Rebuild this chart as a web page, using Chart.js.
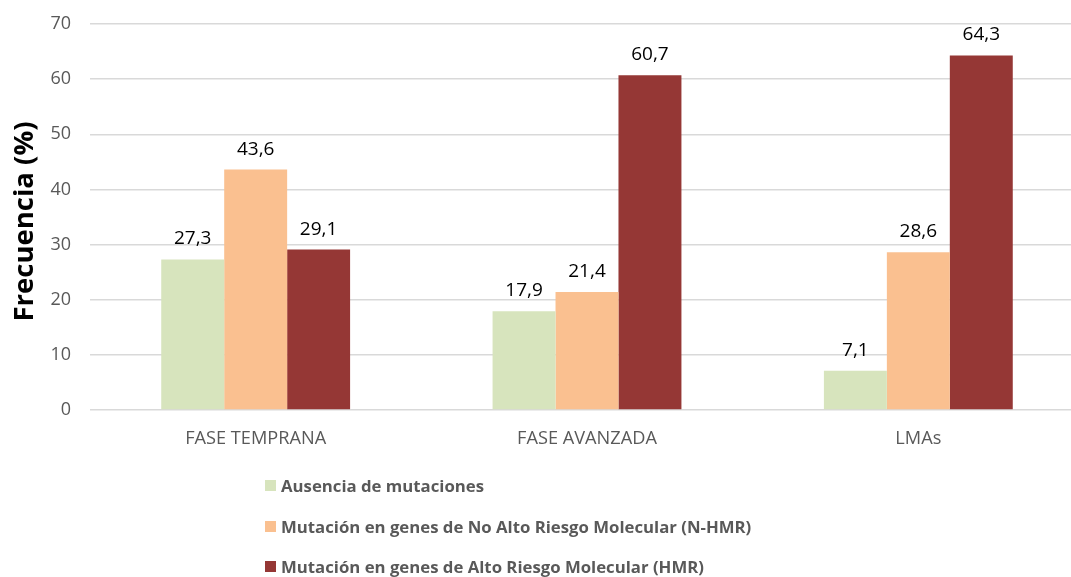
<!DOCTYPE html>
<html>
<head>
<meta charset="utf-8">
<script src="https://cdn.jsdelivr.net/npm/chart.js@4"></script>
<style>
  html, body { margin: 0; padding: 0; background: #fff; overflow: hidden; }
  #wrap { position: relative; width: 1071px; height: 577px; overflow: hidden; }
  #legend {
    position: absolute; left: 265px; top: 474px;
    font-family: "Open Sans", "Liberation Sans", sans-serif; font-weight: bold;
    font-size: 16.75px; color: #595959;
  }
  #legend .item { height: 40.5px; display: flex; align-items: flex-start; white-space: nowrap; }
  #legend .box { width: 11px; height: 11px; margin: 6px 5px 0 0; }
</style>
</head>
<body>
<div id="wrap">
  <canvas id="chart" width="1085" height="577"></canvas>
  <div id="legend"></div>
</div>
<script>
// ===== DATOS =====
const categories = ['FASE TEMPRANA', 'FASE AVANZADA', 'LMAs'];
const seriesNames = [
    'Ausencia de mutaciones',
    'Mutación en genes de No Alto Riesgo Molecular (N-HMR)',
    'Mutación en genes de Alto Riesgo Molecular (HMR)'
];
const ausencia = [27.3, 17.9, 7.1];
const noAltoRiesgo = [43.6, 21.4, 28.6];
const altoRiesgo = [29.1, 60.7, 64.3];
const yTicks = [0, 10, 20, 30, 40, 50, 60, 70];
const seriesColors = ['#D7E4BD', '#FAC090', '#953735'];

const fontFamily = '"Open Sans", "Liberation Sans", sans-serif';
const yTitle = 'Frecuencia (%)';

// Etiquetas de valor encima de cada barra (coma decimal)
const valueLabels = {
    id: 'valueLabels',
    afterDatasetsDraw(chart) {
        const ctx = chart.ctx;
        ctx.save();
        ctx.fillStyle = '#000';
        ctx.font = '19px ' + fontFamily;
        ctx.textAlign = 'center';
        ctx.textBaseline = 'alphabetic';
        chart.data.datasets.forEach((ds, i) => {
            chart.getDatasetMeta(i).data.forEach((bar, j) => {
                const txt = ds.data[j].toFixed(1).replace('.', ',');
                ctx.fillText(txt, bar.x, bar.y - 15);
            });
        });
        ctx.restore();
    }
};

// Título del eje Y, girado y un poco por debajo del centro del área
const axisTitle = {
    id: 'axisTitle',
    afterDraw(chart) {
        const ctx = chart.ctx;
        const area = chart.chartArea;
        ctx.save();
        ctx.translate(25, (area.top + area.bottom) / 2 + 4.5);
        ctx.rotate(-Math.PI / 2);
        ctx.fillStyle = '#000';
        ctx.font = 'bold 27.5px ' + fontFamily;
        ctx.textAlign = 'center';
        ctx.textBaseline = 'middle';
        ctx.fillText(yTitle, 0, 0);
        ctx.restore();
    }
};

const values = [ausencia, noAltoRiesgo, altoRiesgo];

const chart = new Chart(document.getElementById('chart'), {
    type: 'bar',
    data: {
        labels: categories,
        datasets: seriesNames.map((name, i) => ({
            label: name,
            data: values[i],
            backgroundColor: seriesColors[i],
            categoryPercentage: 0.57,
            barPercentage: 1.0
        }))
    },
    options: {
        responsive: false,
        animation: false,
        layout: { padding: { top: 24, right: 1, bottom: 0, left: 0 } },
        plugins: {
            legend: { display: false },
            tooltip: { enabled: false }
        },
        scales: {
            x: {
                grid: { display: false },
                border: { display: false },
                ticks: {
                    color: '#595959',
                    font: { family: fontFamily, size: 18.2 },
                    padding: 10
                },
                afterFit(scale) { scale.height = 167; }
            },
            y: {
                min: 0,
                max: 70,
                afterBuildTicks(scale) {
                    scale.ticks = yTicks.map(v => ({ value: v }));
                },
                grid: { color: '#D9D9D9', lineWidth: 1.5, drawTicks: false },
                border: { display: false },
                ticks: {
                    color: '#595959',
                    font: { family: fontFamily, size: 18 },
                    padding: 19
                },
                afterFit(scale) {
                    // ancho fijo; sin margen extra arriba/abajo por las etiquetas
                    scale.width = 90;
                    scale.paddingTop = 0;
                    scale.paddingBottom = 0;
                }
            }
        }
    },
    plugins: [valueLabels, axisTitle]
});

// Leyenda vertical en HTML
const legendEl = document.getElementById('legend');
chart.data.datasets.forEach(ds => {
    const item = document.createElement('div');
    item.className = 'item';
    const box = document.createElement('span');
    box.className = 'box';
    box.style.background = ds.backgroundColor;
    const text = document.createElement('span');
    text.textContent = ds.label;
    item.appendChild(box);
    item.appendChild(text);
    legendEl.appendChild(item);
});
</script>
</body>
</html>
